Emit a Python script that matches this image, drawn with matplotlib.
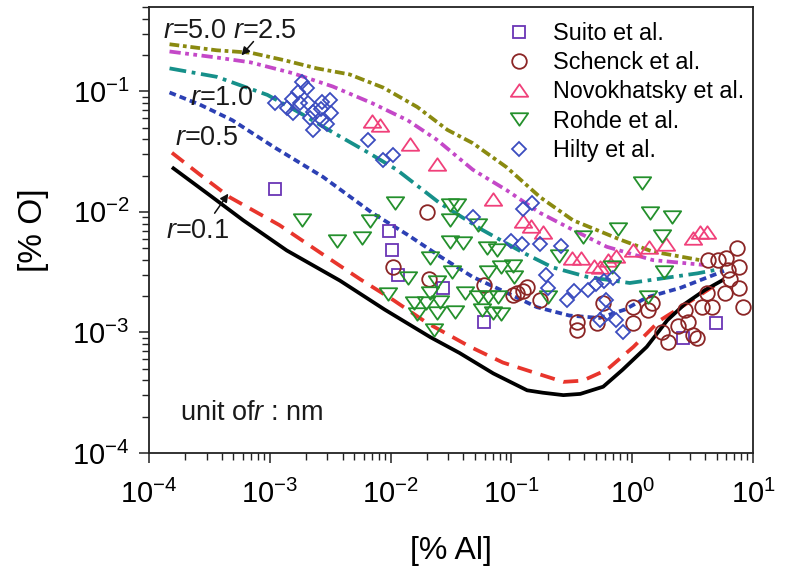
import numpy as np
import matplotlib
matplotlib.use("Agg")
import matplotlib.pyplot as plt
from matplotlib.path import Path
from matplotlib.ticker import LogLocator, NullFormatter

plt.rcParams['font.family'] = ['Liberation Sans', 'DejaVu Sans']
plt.rcParams['mathtext.fontset'] = 'custom'
plt.rcParams['mathtext.rm'] = 'Liberation Sans'
plt.rcParams['mathtext.it'] = 'Liberation Sans:italic'
plt.rcParams['mathtext.bf'] = 'Liberation Sans:bold'
plt.rcParams['axes.unicode_minus'] = False

# ---------------- data (log10 of %Al and %O) ----------------
# calculated curves
r01_log_al = [-3.81, -3.50, -3.22, -2.86, -2.42, -2.05, -1.67, -1.43, -1.15, -1.01,
              -0.87, -0.74, -0.57, -0.43, -0.24, -0.08, 0.12, 0.29, 0.44, 0.60, 0.76]
r01_log_o = [-1.63, -1.86, -2.07, -2.32, -2.57, -2.81, -3.04, -3.17, -3.34, -3.41,
             -3.48, -3.50, -3.52, -3.51, -3.45, -3.31, -3.12, -2.90, -2.76, -2.65, -2.56]

r05_log_al = [-3.81, -3.58, -3.33, -2.92, -2.58, -2.25, -1.98, -1.70, -1.34, -1.07,
              -0.79, -0.57, -0.41, -0.21, 0.01, 0.23, 0.50, 0.76]
r05_log_o = [-1.51, -1.69, -1.88, -2.11, -2.34, -2.56, -2.73, -2.92, -3.12, -3.25,
             -3.34, -3.41, -3.40, -3.31, -3.12, -2.90, -2.73, -2.56]

r10_log_al = [-3.83, -3.58, -3.31, -2.97, -2.56, -2.15, -1.86, -1.59, -1.32, -1.04,
              -0.79, -0.52, -0.27, -0.06, 0.12, 0.40, 0.76]
r10_log_o = [-1.01, -1.11, -1.24, -1.46, -1.71, -2.01, -2.19, -2.37, -2.54, -2.67,
             -2.79, -2.86, -2.88, -2.81, -2.71, -2.63, -2.49]

r25a_log_al = [-3.83, -3.44, -3.02, -2.75, -2.48, -2.20, -1.95, -1.59, -1.24, -0.90,
               -0.66, -0.37, -0.02, 0.26, 0.54, 0.75]
r25a_log_o = [-0.81, -0.88, -1.03, -1.18, -1.34, -1.50, -1.65, -1.93, -2.15, -2.34,
              -2.46, -2.54, -2.59, -2.55, -2.51, -2.47]

r25_log_al = [-3.83, -3.44, -3.16, -2.81, -2.48, -2.15, -1.86, -1.62, -1.32, -1.04,
              -0.76, -0.49, -0.21, 0.17, 0.59]
r25_log_o = [-0.67, -0.72, -0.76, -0.85, -0.96, -1.10, -1.24, -1.40, -1.65, -1.82,
             -2.01, -2.15, -2.29, -2.40, -2.44]

r50_log_al = [-3.83, -3.44, -3.16, -2.89, -2.61, -2.34, -2.06, -1.78, -1.53, -1.32,
              -1.04, -0.76, -0.49, -0.10, 0.17, 0.45, 0.56]
r50_log_o = [-0.61, -0.66, -0.68, -0.74, -0.81, -0.86, -0.97, -1.13, -1.32, -1.43,
             -1.63, -1.88, -2.07, -2.23, -2.33, -2.38, -2.40]

# measured data
suito_log_al = [-2.96, -2.01, -1.99, -1.94, -1.57, -1.23, 0.42, 0.69]
suito_log_o = [-1.81, -2.16, -2.32, -2.52, -2.63, -2.91, -3.05, -2.92]

schenck_log_al = [-1.70, -1.98, -1.68, -1.23, -0.99, -0.95, -0.90, -0.87, -0.76, -0.46,
                  -0.46, -0.29, -0.24, 0.01, 0.01, 0.13, 0.16, 0.25, 0.30, 0.38,
                  0.44, 0.46, 0.50, 0.54, 0.58, 0.62, 0.66, 0.63, 0.71, 0.78,
                  0.87, 0.88, 0.79, 0.81, 0.88, 0.77, 0.92]
schenck_log_o = [-2.00, -2.46, -2.56, -2.61, -2.69, -2.67, -2.66, -2.62, -2.73, -2.91,
                 -2.98, -2.92, -2.76, -2.79, -2.92, -2.81, -2.76, -3.00, -3.08, -2.95,
                 -2.81, -2.91, -3.02, -3.05, -2.79, -2.67, -2.79, -2.40, -2.40, -2.38,
                 -2.30, -2.46, -2.48, -2.56, -2.63, -2.67, -2.79]

novo_log_al = [-2.15, -2.09, -1.84, -1.62, -1.15, -0.90, -0.84, -0.74, -0.50, -0.42,
               -0.32, -0.27, -0.20, -0.13, 0.01, 0.14, 0.28, 0.50, 0.56, 0.62]
novo_log_o = [-1.25, -1.28, -1.44, -1.60, -1.89, -2.08, -2.12, -2.17, -2.38, -2.38,
              -2.45, -2.46, -2.40, -2.37, -2.32, -2.29, -2.27, -2.22, -2.17, -2.17]

rohde_log_al = [-2.73, -2.44, -2.24, -2.17, -1.96, -2.02, -1.86, -1.81, -1.71, -1.78,
                -1.67, -1.62, -1.67, -1.59, -1.62, -1.64, -1.47, -1.49, -1.38, -1.51,
                -1.45, -1.51, -1.28, -1.51, -1.40, -1.20, -1.12, -1.19, -1.09, -0.99,
                -0.98, -1.28, -1.19, -1.24, -1.15, -1.09, -1.11, -0.70, -0.61, -0.41,
                -0.12, 0.08, 0.15, 0.33, 0.25, -0.17, 0.26, 0.13]
rohde_log_o = [-2.07, -2.24, -2.22, -2.08, -1.93, -2.68, -2.55, -2.76, -2.76, -2.85,
               -2.38, -2.58, -2.67, -2.75, -2.84, -2.98, -2.83, -2.50, -2.67, -1.94,
               -1.94, -2.07, -2.11, -2.25, -2.26, -2.30, -2.32, -2.50, -2.46, -2.45,
               -2.54, -2.71, -2.71, -2.81, -2.84, -2.85, -2.71, -2.71, -2.37, -2.21,
               -2.14, -1.76, -2.01, -2.04, -2.20, -2.46, -2.50, -2.71]

hilty_log_al = [-2.96, -2.86, -2.81, -2.82, -2.77, -2.73, -2.69, -2.75, -2.68, -2.64,
                -2.67, -2.57, -2.50, -2.58, -2.49, -2.57, -2.53, -2.64, -2.19, -2.06,
                -1.98, -1.32, -0.90, -0.83, -1.00, -0.91, -0.76, -0.59, -0.71, -0.70,
                -0.54, -0.48, -0.37, -0.30, -0.23, -0.16, -0.22, -0.21, -0.27, -0.13,
                -0.08]
hilty_log_o = [-1.10, -1.14, -1.18, -1.06, -1.01, -0.92, -0.97, -1.10, -1.10, -1.17,
               -1.22, -1.09, -1.07, -1.15, -1.18, -1.24, -1.27, -1.32, -1.40, -1.57,
               -1.53, -2.04, -1.98, -1.93, -2.24, -2.27, -2.27, -2.28, -2.52, -2.63,
               -2.73, -2.66, -2.65, -2.60, -2.57, -2.55, -2.73, -2.84, -2.90, -2.90,
               -3.00]

series_labels = ["Suito et al.", "Schenck et al.", "Novokhatsky et al.",
                 "Rohde et al.", "Hilty et al."]
x_ticks_log = [-4, -3, -2, -1, 0, 1]
y_ticks_log = [-4, -3, -2, -1]

# ---------------- figure ----------------
fig = plt.figure(figsize=(7.85, 5.71), dpi=100)
ax = fig.add_axes([149 / 785, 1 - 453 / 571, 604 / 785, 446 / 571])
ax.set_xscale('log')
ax.set_yscale('log')

lw = 2.7
curves = [
    (r50_log_al, r50_log_o, dict(color='#8a8a10', linestyle=(0, (2.6, 1.0, 1.0, 1.0)))),
    (r25_log_al, r25_log_o, dict(color='#c448c8', linestyle=(0, (3.0, 1.2, 1.0, 1.2, 1.0, 1.2)))),
    (r25a_log_al, r25a_log_o, dict(color='#16908a', linestyle=(0, (4.5, 1.5, 1.0, 1.5)))),
    (r10_log_al, r10_log_o, dict(color='#2c40b4', linestyle=(0, (1.8, 1.1)))),
    (r05_log_al, r05_log_o, dict(color='#e8352c', linestyle=(0, (4.0, 2.4)))),
    (r01_log_al, r01_log_o, dict(color='black', linestyle='-')),
]
for lx, ly, st in curves:
    ax.plot(10 ** np.array(lx), 10 ** np.array(ly), lw=lw, dash_capstyle='butt',
            solid_capstyle='butt', solid_joinstyle='round', zorder=2, **st)

tri_up = Path([(0, 0.72), (-1, -0.72), (1, -0.72), (0, 0.72)], closed=True)
tri_dn = Path([(0, -0.72), (-1, 0.72), (1, 0.72), (0, -0.72)], closed=True)
mew = 1.3
scatter_sets = [
    (suito_log_al, suito_log_o, dict(marker='s', ms=9, mec='#6a35b5')),
    (schenck_log_al, schenck_log_o, dict(marker='o', ms=10.5, mec='#8b2525')),
    (novo_log_al, novo_log_o, dict(marker=tri_up, ms=12.5, mec='#f0407a')),
    (rohde_log_al, rohde_log_o, dict(marker=tri_dn, ms=12.5, mec='#24902c')),
    (hilty_log_al, hilty_log_o, dict(marker='D', ms=7.5, mec='#3b4cbf')),
]
for (lx, ly, st), lab in zip(scatter_sets, series_labels):
    ax.plot(10 ** np.array(lx), 10 ** np.array(ly), linestyle='none', mfc='none',
            mew=mew, label=lab, zorder=3, **st)

ax.set_xlim(1e-4, 10)
ax.set_ylim(1e-4, 0.5)

ax.xaxis.set_minor_locator(LogLocator(base=10, subs=np.arange(2, 10), numticks=20))
ax.yaxis.set_minor_locator(LogLocator(base=10, subs=np.arange(2, 10), numticks=20))
ax.xaxis.set_minor_formatter(NullFormatter())
ax.yaxis.set_minor_formatter(NullFormatter())
ax.set_xticks([10.0 ** v for v in x_ticks_log])
ax.set_yticks([10.0 ** v for v in y_ticks_log])
ax.set_xticklabels([r'$\mathdefault{10^{%d}}$' % v for v in x_ticks_log])
ax.set_yticklabels([r'$\mathdefault{10^{%d}}$' % v for v in y_ticks_log])
ax.tick_params(which='major', direction='out', length=7, width=1.1, labelsize=21,
               top=False, right=False, color='#222222')
ax.tick_params(axis='x', which='major', pad=12)
ax.tick_params(axis='y', which='major', pad=7)
ax.tick_params(which='minor', direction='out', length=5, width=1.0,
               top=False, right=False, color='#222222')
for s in ax.spines.values():
    s.set_linewidth(1.3)
    s.set_color('#222222')

ax.set_xlabel('[% Al]', fontsize=23, labelpad=20)
ax.set_ylabel('[% O]', fontsize=24, labelpad=17)

leg = ax.legend(loc='upper left', bbox_to_anchor=(0.594, 0.967), frameon=False,
                fontsize=16.8, handlelength=1.0, handletextpad=0.95,
                labelspacing=0.27, borderaxespad=0, borderpad=0)

txt = dict(fontsize=19.5, color='#1a1a1a', transform=ax.transAxes, va='baseline')
ax.text(0.023, 0.930, r'$r$=5.0 $r$=2.5', **txt)
ax.text(0.068, 0.780, r'$r$=1.0', **txt)
ax.text(0.043, 0.690, r'$r$=0.5', **txt)
ax.text(0.028, 0.482, r'$r$=0.1', **txt)
ax.text(0.051, 0.074, r'unit of$r$ : nm', fontsize=19.5, color='#1a1a1a',
        transform=ax.transAxes, va='baseline')

ax.annotate('', xy=(10 ** -3.25, 10 ** -0.72), xytext=(10 ** -3.12, 10 ** -0.57),
            arrowprops=dict(arrowstyle='-|>', color='#111111', lw=1.1, mutation_scale=12))
ax.annotate('', xy=(10 ** -3.33, 10 ** -1.83), xytext=(10 ** -3.47, 10 ** -2.03),
            arrowprops=dict(arrowstyle='-|>', color='#111111', lw=1.1, mutation_scale=12))

fig.savefig('out.png', dpi=100)
